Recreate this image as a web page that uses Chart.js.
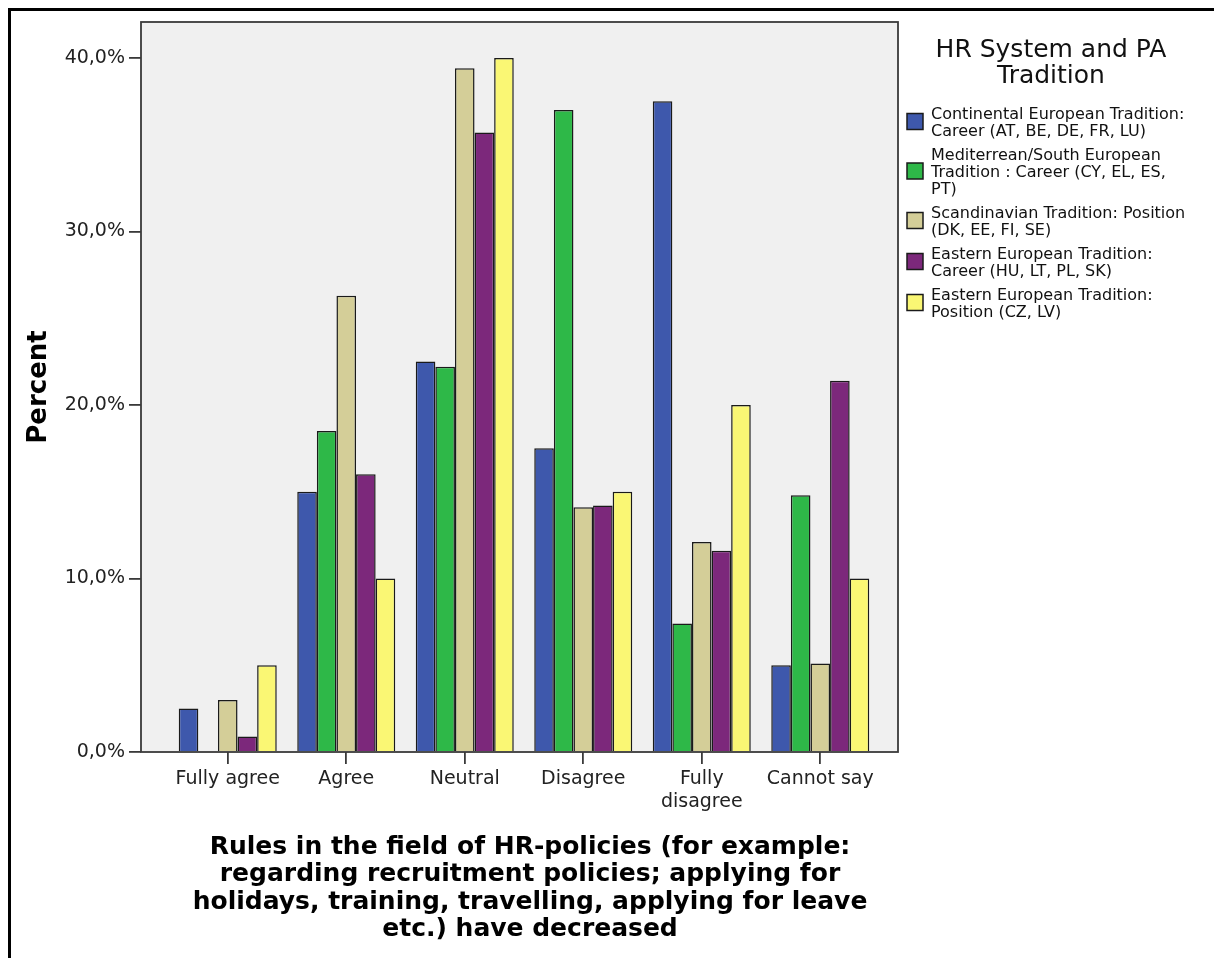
<!DOCTYPE html>
<html>
<head>
<meta charset="utf-8">
<script src="https://cdn.jsdelivr.net/npm/chart.js@4.4.1/dist/chart.umd.min.js"></script>
<style>
  html, body { margin: 0; padding: 0; background: #fff; }
  canvas { display: block; }
</style>
</head>
<body>
<canvas id="chart" width="1214" height="958"></canvas>
<script>
// answer categories (x axis)
const categories = [['Fully agree'], ['Agree'], ['Neutral'], ['Disagree'], ['Fully', 'disagree'], ['Cannot say']];
const yTicks = [0, 10, 20, 30, 40];

// percent per tradition group
const continental = [2.5, 15.0, 22.5, 17.5, 37.5, 5.0];
const mediterranean = [0, 18.5, 22.2, 37.0, 7.4, 14.8];
const scandinavian = [3.0, 26.3, 39.4, 14.1, 12.1, 5.1];
const easternCareer = [0.9, 16.0, 35.7, 14.2, 11.6, 21.4];
const easternPosition = [5.0, 10.0, 40.0, 15.0, 20.0, 10.0];

const seriesLabels = [
    ['Continental European Tradition:', 'Career (AT, BE, DE, FR, LU)'],
    ['Mediterrean/South European', 'Tradition : Career (CY, EL, ES,', 'PT)'],
    ['Scandinavian Tradition: Position', '(DK, EE, FI, SE)'],
    ['Eastern European Tradition:', 'Career (HU, LT, PL, SK)'],
    ['Eastern European Tradition:', 'Position (CZ, LV)']
];
const seriesColors = ['#3e58ac', '#2eb848', '#d4ce98', '#7c287b', '#faf774'];
const legendTitle = ['HR System and PA', 'Tradition'];
const xTitle = [
    'Rules in the field of HR-policies (for example:',
    'regarding recruitment policies; applying for',
    'holidays, training, travelling, applying for leave',
    'etc.) have decreased'
];
const yTitle = 'Percent';

const FONT = '"DejaVu Sans", sans-serif';
const allSeries = [continental, mediterranean, scandinavian, easternCareer, easternPosition];

const datasets = allSeries.map((vals, i) => ({
    label: seriesLabels[i].join(' '),
    data: vals.map((v, j) => ({ x: j, y: v })),
    backgroundColor: seriesColors[i],
    borderColor: '#1a1a1a',
    borderWidth: 1.5,
    categoryPercentage: 0.827,
    barPercentage: 1.0
}));

// page frame, plot background, plot border, x title and the legend block
const spssLook = {
    id: 'spssLook',
    beforeDraw(chart) {
        const { ctx, chartArea: a, width, height } = chart;
        ctx.save();
        ctx.fillStyle = '#fff';
        ctx.fillRect(0, 0, width, height);
        ctx.fillStyle = '#000';
        ctx.fillRect(8, 8, width - 8, 3);
        ctx.fillRect(8, 8, 3, height - 8);
        ctx.fillStyle = '#f0f0f0';
        ctx.fillRect(a.left, a.top, a.right - a.left, a.bottom - a.top);
        ctx.restore();
    },
    afterDatasetsDraw(chart) {
        const { ctx, chartArea: a } = chart;
        ctx.save();
        ctx.strokeStyle = '#3a3a3a';
        ctx.lineWidth = 1.8;
        ctx.strokeRect(a.left, a.top, a.right - a.left, a.bottom - a.top);
        ctx.restore();
    },
    afterDraw(chart) {
        const ctx = chart.ctx;
        ctx.save();
        ctx.textBaseline = 'middle';
        ctx.textAlign = 'center';

        // x axis title, SPSS puts it a bit right of the plot centre
        ctx.fillStyle = '#000';
        ctx.font = 'bold 25px ' + FONT;
        xTitle.forEach((t, i) => ctx.fillText(t, 530, 847 + i * 27.5));

        ctx.fillStyle = '#111';
        ctx.font = '25px ' + FONT;
        legendTitle.forEach((t, i) => ctx.fillText(t, 1051, 50 + i * 26));

        ctx.font = '16px ' + FONT;
        ctx.textAlign = 'left';
        const lh = 17;
        let y = 115;
        seriesLabels.forEach((lines, i) => {
            const mid = y + (lines.length - 1) * lh / 2;
            ctx.fillStyle = seriesColors[i];
            ctx.fillRect(907, mid - 10, 16, 16);
            ctx.strokeStyle = '#1a1a1a';
            ctx.lineWidth = 1.5;
            ctx.strokeRect(907, mid - 10, 16, 16);
            ctx.fillStyle = '#111';
            lines.forEach((t, k) => ctx.fillText(t, 931, y + k * lh));
            y += lines.length * lh + 7;
        });
        ctx.restore();
    }
};

new Chart(document.getElementById('chart'), {
    type: 'bar',
    data: { datasets },
    options: {
        responsive: false,
        animation: false,
        layout: { padding: { left: 0, right: 316, top: 22, bottom: 0 } },
        plugins: {
            legend: { display: false },
            tooltip: { enabled: false }
        },
        scales: {
            x: {
                type: 'linear',
                min: -0.732,
                max: 5.656,
                offset: false,
                afterBuildTicks: s => { s.ticks = categories.map((c, i) => ({ value: i })); },
                afterFit: s => { s.height = 206; },
                ticks: {
                    callback: (v, i) => categories[i],
                    font: { family: FONT, size: 19 },
                    color: '#222',
                    padding: 4,
                    maxRotation: 0,
                    autoSkip: false
                },
                grid: { drawOnChartArea: false, offset: false, tickLength: 12, color: '#3a3a3a', lineWidth: 1.8 },
                border: { display: false }
            },
            y: {
                min: 0,
                max: 42.07,
                afterBuildTicks: s => { s.ticks = yTicks.map(v => ({ value: v })); },
                afterFit: s => { s.width = 141; },
                ticks: {
                    callback: v => v.toFixed(1).replace('.', ',') + '%',
                    font: { family: FONT, size: 19 },
                    color: '#222',
                    padding: 4
                },
                grid: { drawOnChartArea: false, tickLength: 12, color: '#3a3a3a', lineWidth: 1.8 },
                border: { display: false },
                title: {
                    display: true,
                    text: yTitle,
                    color: '#000',
                    font: { family: FONT, size: 26, weight: 'bold' },
                    padding: { top: 24, bottom: 0 }
                }
            }
        }
    },
    plugins: [spssLook]
});
</script>
</body>
</html>
